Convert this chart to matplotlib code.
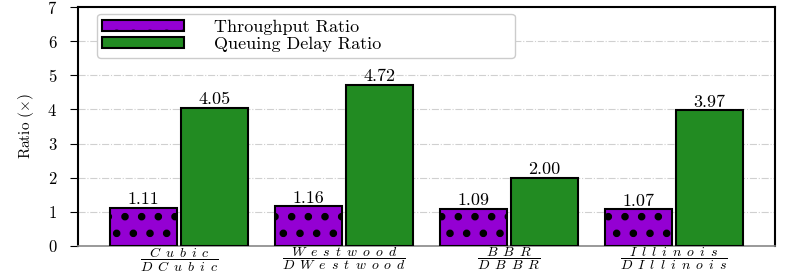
import numpy as np
import matplotlib
matplotlib.use("Agg")
import matplotlib.pyplot as plt

plt.rcParams['mathtext.fontset'] = 'cm'
plt.rcParams['font.family'] = 'serif'
plt.rcParams['font.serif'] = ['cmr10', 'DejaVu Serif']
plt.rcParams['axes.formatter.use_mathtext'] = True
plt.rcParams['hatch.linewidth'] = 3.0

# Data
schemes = [r'$\dfrac{C\enspace u\enspace b\enspace i\enspace c}{D\enspace C\enspace u\enspace b\enspace i\enspace c}$',
           r'$\dfrac{W\enspace e\enspace s\enspace t\enspace w\enspace o\enspace o\enspace d}{D\enspace W\enspace e\enspace s\enspace t\enspace w\enspace o\enspace o\enspace d}$',
           r'$\dfrac{B\enspace B\enspace R}{D\enspace B\enspace B\enspace R}$',
           r'$\dfrac{I\enspace l\enspace l\enspace i\enspace n\enspace o\enspace i\enspace s}{D\enspace I\enspace l\enspace l\enspace i\enspace n\enspace o\enspace i\enspace s}$']
throughput_ratio = [1.11, 1.16, 1.09, 1.07]
delay_ratio = [4.05, 4.72, 2.00, 3.97]

x = np.arange(len(schemes))
width = 0.405
offset = 0.215

fig, ax = plt.subplots(figsize=(7.89, 2.77), dpi=100)

b1 = ax.bar(x - offset, throughput_ratio, width, color='#9400D3',
            edgecolor='black', linewidth=1.5, hatch='.', label='Throughput Ratio',
            zorder=3)
b2 = ax.bar(x + offset, delay_ratio, width, color='#228B22',
            edgecolor='black', linewidth=1.5, label='Queuing Delay Ratio',
            zorder=3)

for bars in (b1, b2):
    for rect in bars:
        h = rect.get_height()
        ax.text(rect.get_x() + rect.get_width() / 2, h + 0.02, '%.2f' % h,
                ha='center', va='bottom', fontsize=13)

ax.set_ylim(0, 7)
ax.set_xlim(-0.61, 3.61)
ax.set_xticks(x)
ax.set_xticklabels(schemes, fontsize=10)
ax.tick_params(axis='x', length=0, pad=0)
ax.tick_params(axis='y', labelsize=12, length=6, pad=9)
ax.set_ylabel(r'Ratio $(\times)$', fontsize=11, labelpad=8)

ax.yaxis.grid(True, linestyle='-.', color='#d0d0d0', linewidth=0.8, zorder=0)
ax.set_axisbelow(True)

for s in ('left', 'right', 'top'):
    ax.spines[s].set_linewidth(1.5)
    ax.spines[s].set_color('black')
ax.spines['bottom'].set_color('#888888')
ax.spines['bottom'].set_linewidth(1.2)

ax.legend(loc='upper left', bbox_to_anchor=(0.027, 0.971, 0.6, 0.0),
          mode='expand', borderaxespad=0, fontsize=13, handlelength=4.5,
          handleheight=0.55, handletextpad=1.7, framealpha=1,
          edgecolor='#cccccc', labelspacing=0.12, borderpad=0.3)

fig.subplots_adjust(left=0.099, right=0.982, top=0.975, bottom=0.112)
fig.savefig('out.png', dpi=100)
